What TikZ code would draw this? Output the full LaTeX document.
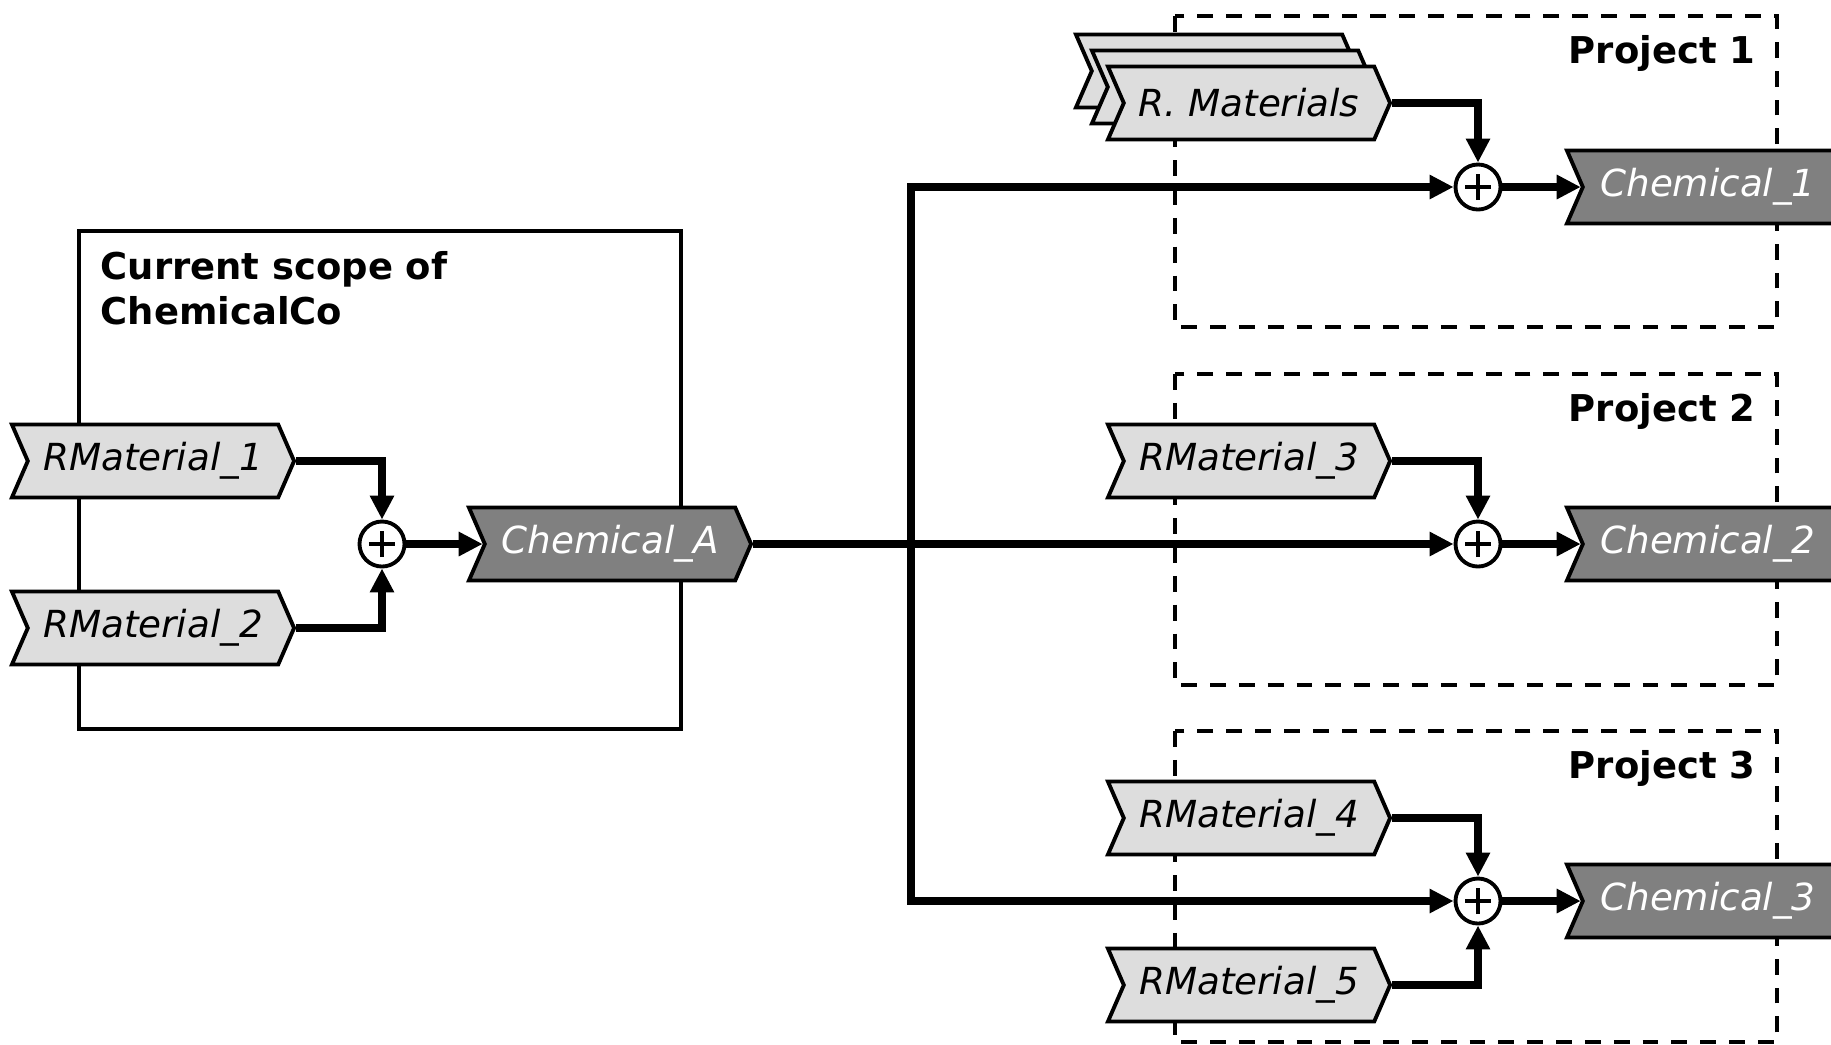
\documentclass[tikz,border=0pt]{standalone}
\usepackage{fontspec}
\setmainfont{DejaVu Sans}
\usetikzlibrary{arrows.meta,shapes.symbols}
\definecolor{rawgray}{HTML}{DDDDDD}
\definecolor{chemgray}{HTML}{808080}

\begin{document}
\begin{tikzpicture}[x=0.01cm,y=-0.01cm,
  font=\fontsize{10.5}{12.6}\selectfont,
  raw/.style={signal,signal from=west,signal to=east,signal pointer angle=133,
    draw,line width=1.1pt,fill=rawgray,minimum width=2.82cm,minimum height=0.73cm,
    inner sep=0pt,font=\fontsize{10.6}{12.6}\selectfont\itshape},
  chem/.style={raw,fill=chemgray,text=white},
  sum/.style={circle,draw,line width=1.1pt,fill=white,minimum size=0.45cm,inner sep=0pt,
    path picture={\draw[line width=0.9pt]
      ([xshift=-0.13cm]path picture bounding box.center) -- ([xshift=0.13cm]path picture bounding box.center)
      ([yshift=-0.13cm]path picture bounding box.center) -- ([yshift=0.13cm]path picture bounding box.center);}},
  flow/.style={line width=2.1pt,-{Triangle[length=0.24cm,width=0.23cm]}},
  project/.style={dash pattern=on 4.5pt off 3.7pt,line width=1.1pt},
  ttl/.style={font=\fontsize{10.5}{12.6}\selectfont\bfseries,inner sep=0pt}]
\useasboundingbox (0,0) rectangle (1831,1044);
\clip (0,0) rectangle (1831,1044);

\draw[line width=1.1pt] (79,231) rectangle (681,729);
\node[ttl,anchor=north west,align=left] (scopettl) at (100,251) {Current scope of\\ChemicalCo};

\foreach \y in {16,374,731}
  \draw[project] (1175,\y) rectangle (1777,\y+311);
\foreach \i/\y in {1/63,2/421,3/778}
  \node[ttl,anchor=base east] (proj\i) at (1756,\y) {Project \i};

\node[raw] (rm1) at (153,461) {RMaterial\_1};
\node[raw] (rm2) at (153,628) {RMaterial\_2};
\node[sum] (sumA) at (382,544) {};
\node[chem] (chemA) at (610,544) {Chemical\_A};

\node[raw] (rmsback) at (1217,71) {};
\node[raw] (rmsmid) at (1233,87) {};
\node[raw] (rms) at (1249,103) {R. Materials};
\node[raw] (rm3) at (1249,461) {RMaterial\_3};
\node[raw] (rm4) at (1249,818) {RMaterial\_4};
\node[raw] (rm5) at (1249,985) {RMaterial\_5};

\node[sum] (sum1) at (1478,187) {};
\node[sum] (sum2) at (1478,544) {};
\node[sum] (sum3) at (1478,901) {};
\node[chem] (chem1) at (1708,187) {Chemical\_1};
\node[chem] (chem2) at (1708,544) {Chemical\_2};
\node[chem] (chem3) at (1708,901) {Chemical\_3};

\draw[flow] (rm1.east) -| (sumA.north);
\draw[flow] (rm2.east) -| (sumA.south);
\draw[flow] (sumA.east) -- (chemA.west);

\coordinate (trunk) at (911,544);
\draw[flow] (chemA.east) -- (sum2.west);
\draw[flow] (trunk) |- (sum1.west);
\draw[flow] (trunk) |- (sum3.west);

\draw[flow] (rms.east) -| (sum1.north);
\draw[flow] (rm3.east) -| (sum2.north);
\draw[flow] (rm4.east) -| (sum3.north);
\draw[flow] (rm5.east) -| (sum3.south);

\draw[flow] (sum1.east) -- (chem1.west);
\draw[flow] (sum2.east) -- (chem2.west);
\draw[flow] (sum3.east) -- (chem3.west);
\end{tikzpicture}
\end{document}
